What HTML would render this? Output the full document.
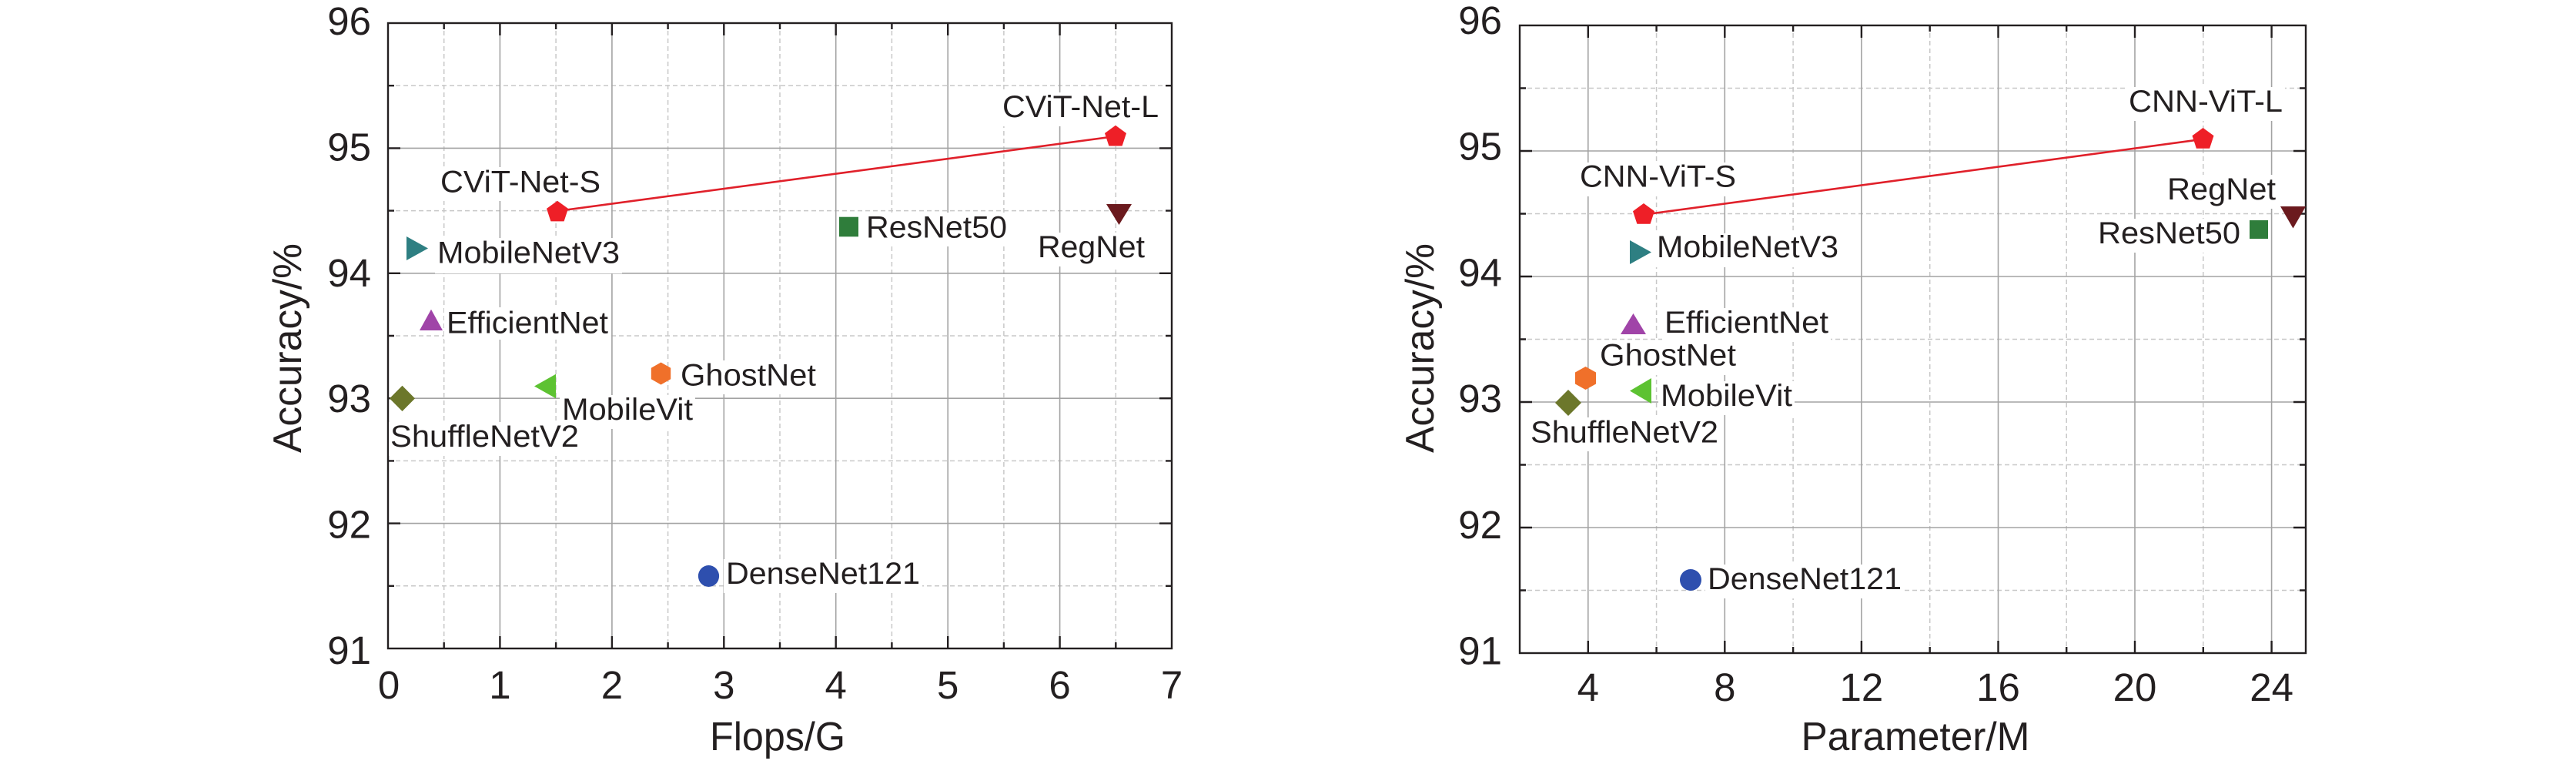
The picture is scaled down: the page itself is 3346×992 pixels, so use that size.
<!DOCTYPE html>
<html>
<head>
<meta charset="utf-8">
<style>
  html,body{margin:0;padding:0;background:#fff;}
  svg{display:block;}
  text{font-family:"Liberation Sans",Arial,sans-serif;fill:#231f20;}
</style>
</head>
<body>
<svg width="3346" height="992" viewBox="0 0 3346 992" xmlns="http://www.w3.org/2000/svg">
<rect width="3346" height="992" fill="#fff"/>

<!-- ============ LEFT PLOT ============ -->
<!-- minor grid -->
<g stroke="#c8c8c8" stroke-width="1.5" stroke-dasharray="6,4" fill="none">
  <path d="M576.7 30V842M722.1 30V842M867.6 30V842M1013 30V842M1158.4 30V842M1303.9 30V842M1449.3 30V842"/>
  <path d="M504 111.2H1522M504 273.6H1522M504 436H1522M504 598.4H1522M504 760.8H1522"/>
</g>
<!-- major grid -->
<g stroke="#a3a3a3" stroke-width="1.6" fill="none">
  <path d="M649.4 30V842M794.9 30V842M940.3 30V842M1085.7 30V842M1231.2 30V842M1376.6 30V842"/>
  <path d="M504 192.4H1522M504 354.8H1522M504 517.2H1522M504 679.6H1522"/>
</g>
<!-- axes -->
<rect x="504" y="30" width="1018" height="812" fill="none" stroke="#231f20" stroke-width="2.4"/>
<!-- ticks -->
<g stroke="#231f20" stroke-width="2.4" fill="none">
  <!-- bottom major / minor -->
  <path d="M649.4 842v-16M794.9 842v-16M940.3 842v-16M1085.7 842v-16M1231.2 842v-16M1376.6 842v-16"/>
  <path d="M576.7 842v-8M722.1 842v-8M867.6 842v-8M1013 842v-8M1158.4 842v-8M1303.9 842v-8M1449.3 842v-8"/>
  <!-- top -->
  <path d="M649.4 30v16M794.9 30v16M940.3 30v16M1085.7 30v16M1231.2 30v16M1376.6 30v16"/>
  <path d="M576.7 30v8M722.1 30v8M867.6 30v8M1013 30v8M1158.4 30v8M1303.9 30v8M1449.3 30v8"/>
  <!-- left -->
  <path d="M504 192.4h16M504 354.8h16M504 517.2h16M504 679.6h16"/>
  <path d="M504 111.2h8M504 273.6h8M504 436h8M504 598.4h8M504 760.8h8"/>
  <!-- right -->
  <path d="M1522 192.4h-16M1522 354.8h-16M1522 517.2h-16M1522 679.6h-16"/>
  <path d="M1522 111.2h-8M1522 273.6h-8M1522 436h-8M1522 598.4h-8M1522 760.8h-8"/>
</g>
<!-- label boxes -->
<g fill="#fff">
  <rect x="1299" y="120" width="209" height="44"/>
  <rect x="569" y="217" width="214" height="44"/>
  <rect x="1122" y="276" width="189" height="44"/>
  <rect x="1345" y="302" width="145" height="44"/>
  <rect x="565" y="309" width="243" height="46"/>
  <rect x="577" y="399" width="216" height="42"/>
  <rect x="881" y="468" width="182" height="44"/>
  <rect x="727" y="513" width="176" height="44"/>
  <rect x="505" y="548" width="250" height="44"/>
  <rect x="940" y="726" width="258" height="44"/>
</g>
<!-- red line -->
<line x1="724" y1="274" x2="1449" y2="177" stroke="#e0202a" stroke-width="2.6"/>
<!-- markers -->
<polygon points="724,260.7 738,270.9 732.6,287.4 715.4,287.4 710,270.9" fill="#ee1f27"/>
<polygon points="1449,162.8 1463,173 1457.6,189.5 1440.4,189.5 1435,173" fill="#ee1f27"/>
<rect x="1090" y="281.7" width="25" height="25.6" fill="#2f7d3b"/>
<polygon points="1437,265 1470,265 1453.5,292" fill="#6b1a1e"/>
<polygon points="528,307 528,338 556,322.5" fill="#2e7f82"/>
<polygon points="545,429 575,429 560,401.7" fill="#a044a8"/>
<polygon points="858.5,470.5 871.2,477.8 871.2,492.2 858.5,499.5 845.8,492.2 845.8,477.8" fill="#f0702a"/>
<polygon points="694,501.5 722,485.7 722,517.3" fill="#5dc232"/>
<polygon points="522.5,500.7 539,517.4 522.5,534 506,517.4" fill="#6c772b"/>
<ellipse cx="920.5" cy="748" rx="13.6" ry="14" fill="#2e4fae"/>
<!-- data labels -->
<g font-size="40">
  <text x="1302" y="152" textLength="203" lengthAdjust="spacingAndGlyphs">CViT-Net-L</text>
  <text x="572" y="249.5" textLength="208" lengthAdjust="spacingAndGlyphs">CViT-Net-S</text>
  <text x="1125" y="308.6" textLength="183" lengthAdjust="spacingAndGlyphs">ResNet50</text>
  <text x="1348" y="334" textLength="139" lengthAdjust="spacingAndGlyphs">RegNet</text>
  <text x="568" y="341.7" textLength="237" lengthAdjust="spacingAndGlyphs">MobileNetV3</text>
  <text x="580" y="432.5" textLength="210" lengthAdjust="spacingAndGlyphs">EfficientNet</text>
  <text x="884" y="500.6" textLength="176" lengthAdjust="spacingAndGlyphs">GhostNet</text>
  <text x="730" y="545" textLength="170" lengthAdjust="spacingAndGlyphs">MobileVit</text>
  <text x="507" y="580" textLength="245" lengthAdjust="spacingAndGlyphs">ShuffleNetV2</text>
  <text x="943" y="758" textLength="252" lengthAdjust="spacingAndGlyphs">DenseNet121</text>
</g>
<!-- tick labels -->
<g font-size="51" text-anchor="end">
  <text x="482" y="45">96</text>
  <text x="482" y="208.4">95</text>
  <text x="482" y="371.8">94</text>
  <text x="482" y="535.2">93</text>
  <text x="482" y="698.6">92</text>
  <text x="482" y="862">91</text>
</g>
<g font-size="51" text-anchor="middle">
  <text x="505" y="907">0</text>
  <text x="649.4" y="907">1</text>
  <text x="794.9" y="907">2</text>
  <text x="940.3" y="907">3</text>
  <text x="1085.7" y="907">4</text>
  <text x="1231.2" y="907">5</text>
  <text x="1376.6" y="907">6</text>
  <text x="1522" y="907">7</text>
</g>
<text x="1010" y="974" font-size="52" text-anchor="middle" textLength="176" lengthAdjust="spacingAndGlyphs">Flops/G</text>
<text transform="translate(391,452) rotate(-90)" font-size="52" text-anchor="middle" textLength="272" lengthAdjust="spacingAndGlyphs">Accuracy/%</text>

<!-- ============ RIGHT PLOT ============ -->
<g stroke="#c8c8c8" stroke-width="1.5" stroke-dasharray="6,4" fill="none">
  <path d="M2151.6 33V848M2329.1 33V848M2506.7 33V848M2684.2 33V848M2861.8 33V848"/>
  <path d="M1974 114.5H2995M1974 277.5H2995M1974 440.5H2995M1974 603.5H2995M1974 766.5H2995"/>
</g>
<g stroke="#a3a3a3" stroke-width="1.6" fill="none">
  <path d="M2062.8 33V848M2240.3 33V848M2417.9 33V848M2595.5 33V848M2773 33V848M2950.6 33V848"/>
  <path d="M1974 196H2995M1974 359H2995M1974 522H2995M1974 685H2995"/>
</g>
<rect x="1974" y="33" width="1021" height="815" fill="none" stroke="#231f20" stroke-width="2.4"/>
<g stroke="#231f20" stroke-width="2.4" fill="none">
  <path d="M2062.8 848v-16M2240.3 848v-16M2417.9 848v-16M2595.5 848v-16M2773 848v-16M2950.6 848v-16"/>
  <path d="M2151.6 848v-8M2329.1 848v-8M2506.7 848v-8M2684.2 848v-8M2861.8 848v-8"/>
  <path d="M2062.8 33v16M2240.3 33v16M2417.9 33v16M2595.5 33v16M2773 33v16M2950.6 33v16"/>
  <path d="M2151.6 33v8M2329.1 33v8M2506.7 33v8M2684.2 33v8M2861.8 33v8"/>
  <path d="M1974 196h16M1974 359h16M1974 522h16M1974 685h16"/>
  <path d="M1974 114.5h8M1974 277.5h8M1974 440.5h8M1974 603.5h8M1974 766.5h8"/>
  <path d="M2995 196h-16M2995 359h-16M2995 522h-16M2995 685h-16"/>
  <path d="M2995 114.5h-8M2995 277.5h-8M2995 440.5h-8M2995 603.5h-8M2995 766.5h-8"/>
</g>
<g fill="#fff">
  <rect x="2762" y="113" width="206" height="44"/>
  <rect x="2049" y="211" width="209" height="44"/>
  <rect x="2812" y="227" width="147" height="44"/>
  <rect x="2722" y="284" width="191" height="44"/>
  <rect x="2149" y="303" width="242" height="44"/>
  <rect x="2159" y="400" width="219" height="44"/>
  <rect x="2075" y="443" width="183" height="44"/>
  <rect x="2154" y="495" width="177" height="44"/>
  <rect x="1985" y="542" width="250" height="44"/>
  <rect x="2215" y="733" width="258" height="44"/>
</g>
<line x1="2135" y1="278.7" x2="2861.5" y2="180.7" stroke="#e0202a" stroke-width="2.6"/>
<polygon points="2135,264 2149,274.2 2143.6,290.7 2126.4,290.7 2121,274.2" fill="#ee1f27"/>
<polygon points="2861.5,166 2875.5,176.2 2870.1,192.7 2852.9,192.7 2847.5,176.2" fill="#ee1f27"/>
<polygon points="2962,268 2995,268 2978.5,296.5" fill="#6b1a1e"/>
<rect x="2922" y="286" width="24" height="24" fill="#2f7d3b"/>
<polygon points="2117,312 2117,343 2145,327.5" fill="#2e7f82"/>
<polygon points="2105,434 2138,434 2121.5,407" fill="#a044a8"/>
<polygon points="2059.5,476 2073,483.5 2073,498.5 2059.5,506 2046,498.5 2046,483.5" fill="#f0702a"/>
<polygon points="2117,507.5 2145,491 2145,524" fill="#5dc232"/>
<polygon points="2037,506 2054,523 2037,540 2020,523" fill="#6c772b"/>
<ellipse cx="2196" cy="753" rx="14" ry="14" fill="#2e4fae"/>
<g font-size="40">
  <text x="2765" y="145" textLength="200" lengthAdjust="spacingAndGlyphs">CNN-ViT-L</text>
  <text x="2052" y="242.7" textLength="203" lengthAdjust="spacingAndGlyphs">CNN-ViT-S</text>
  <text x="2815" y="259" textLength="141" lengthAdjust="spacingAndGlyphs">RegNet</text>
  <text x="2725" y="316" textLength="185" lengthAdjust="spacingAndGlyphs">ResNet50</text>
  <text x="2152" y="334.2" textLength="236" lengthAdjust="spacingAndGlyphs">MobileNetV3</text>
  <text x="2162" y="432" textLength="213" lengthAdjust="spacingAndGlyphs">EfficientNet</text>
  <text x="2078" y="474.6" textLength="177" lengthAdjust="spacingAndGlyphs">GhostNet</text>
  <text x="2157" y="527" textLength="171" lengthAdjust="spacingAndGlyphs">MobileVit</text>
  <text x="1988" y="574.6" textLength="244" lengthAdjust="spacingAndGlyphs">ShuffleNetV2</text>
  <text x="2218" y="765" textLength="252" lengthAdjust="spacingAndGlyphs">DenseNet121</text>
</g>
<g font-size="51" text-anchor="end">
  <text x="1951" y="44">96</text>
  <text x="1951" y="207.7">95</text>
  <text x="1951" y="371.4">94</text>
  <text x="1951" y="535.1">93</text>
  <text x="1951" y="698.8">92</text>
  <text x="1951" y="862.5">91</text>
</g>
<g font-size="51" text-anchor="middle">
  <text x="2062.8" y="910">4</text>
  <text x="2240.3" y="910">8</text>
  <text x="2417.9" y="910">12</text>
  <text x="2595.5" y="910">16</text>
  <text x="2773" y="910">20</text>
  <text x="2950.6" y="910">24</text>
</g>
<text x="2488" y="974" font-size="52" text-anchor="middle" textLength="297" lengthAdjust="spacingAndGlyphs">Parameter/M</text>
<text transform="translate(1862,452) rotate(-90)" font-size="52" text-anchor="middle" textLength="272" lengthAdjust="spacingAndGlyphs">Accuracy/%</text>
</svg>
</body>
</html>
